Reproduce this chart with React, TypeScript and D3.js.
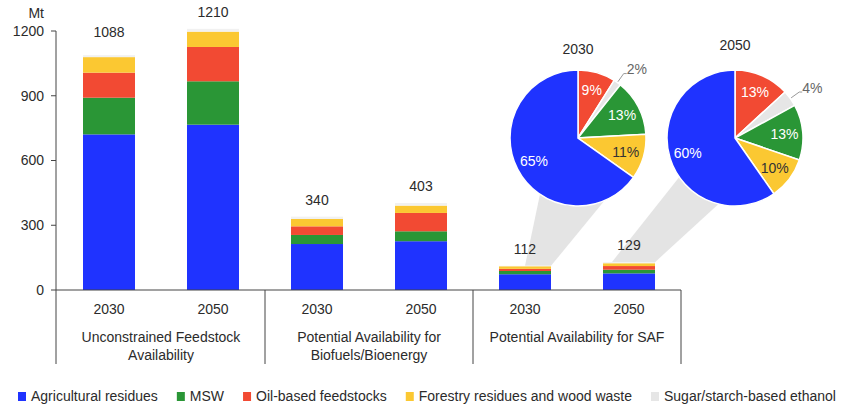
import React from "react";
import * as d3 from "d3";

// ---- data ----
const years = ["2030", "2050", "2030", "2050", "2030", "2050"];
const groups = [
  ["Unconstrained Feedstock", "Availability"],
  ["Potential Availability for", "Biofuels/Bioenergy"],
  ["Potential Availability for SAF"],
];
const seriesNames = [
  "Agricultural residues",
  "MSW",
  "Oil-based feedstocks",
  "Forestry residues and wood waste",
  "Sugar/starch-based ethanol",
];
const agricultural = [721, 766, 213, 226, 73, 77];
const msw = [170, 201, 42, 46, 15, 17];
const oilBased = [116, 159, 40, 85, 10, 17];
const forestry = [72, 71, 34, 34, 12, 13];
const sugar = [9, 13, 11, 12, 2, 5];
const totals = [1088, 1210, 340, 403, 112, 129];
const yTicks = [0, 300, 600, 900, 1200];

// pies zoom into the SAF bars (index 4 and 5)
const pieYears = ["2030", "2050"];
const pieBars = [4, 5];
// clockwise order from 12 o'clock: oil, sugar, msw, forestry, agricultural
const pieOrder = [2, 4, 1, 3, 0];

const colors = ["#1f33ff", "#2a9636", "#f24a33", "#fbc832", "#e6e6e6"];
const barColors = ["#1f33ff", "#2a9636", "#f24a33", "#fbc832", "#f1f1f1"];
const FONT = "'Liberation Sans', Arial, sans-serif";
const TEXT = "#2b2b2b";

const W = 845;
const H = 408;

const App: React.FC = () => {
  const series = [agricultural, msw, oilBased, forestry, sugar];
  const table = years.map((_, i) => {
    const row: Record<string, number> = {};
    seriesNames.forEach((s, k) => (row[s] = series[k][i]));
    return row;
  });
  const stacked = d3.stack<Record<string, number>>().keys(seriesNames)(table);

  const y = d3.scaleLinear().domain([0, 1200]).range([290, 31]);
  const x = d3
    .scaleBand<number>()
    .domain(d3.range(years.length))
    .range([57, 681])
    .paddingInner(0.5)
    .paddingOuter(0.25);
  const bw = x.bandwidth();
  const step = x.step();
  const x0 = x.range()[0];
  const axisBottom = 364;

  // pie layout
  const pieCx = [578, 735];
  const pieCy = 138;
  const R = 68;
  const bandAngles = [
    [124, 67],
    [145, 104],
  ];
  const baseFrac = [0.5, 0.17];

  const arc = d3.arc<d3.PieArcDatum<number>>().innerRadius(0).outerRadius(R);
  const labelArc = d3
    .arc<d3.PieArcDatum<number>>()
    .innerRadius(R * 0.73)
    .outerRadius(R * 0.73);

  // legend layout
  const ctx =
    typeof document !== "undefined"
      ? document.createElement("canvas").getContext("2d")
      : null;
  if (ctx) ctx.font = `14px ${FONT}`;
  let lx = 18;
  const legendItems = seriesNames.map((name, k) => {
    const w = ctx ? ctx.measureText(name).width : name.length * 7;
    const item = { name, k, x: lx };
    lx += 8 + 5 + w + 19;
    return item;
  });

  return (
    <svg
      width={W}
      height={H}
      style={{ position: "absolute", left: 0, top: 0, background: "#fff" }}
      fontFamily={FONT}
    >
      {/* zoom bands */}
      {pieBars.map((b, i) => {
        const top = y(totals[b]);
        const bl = (x(b) as number) + bw * baseFrac[i];
        const br = (x(b) as number) + bw;
        const [al, ar] = bandAngles[i].map((a) => (a * Math.PI) / 180);
        const cx = pieCx[i];
        const pts = [
          [bl, top],
          [cx + R * Math.cos(al), pieCy + R * Math.sin(al)],
          [cx, pieCy],
          [cx + R * Math.cos(ar), pieCy + R * Math.sin(ar)],
          [br, top],
        ];
        return (
          <polygon
            key={"band" + i}
            points={pts.map((p) => p.join(",")).join(" ")}
            fill="#e4e4e4"
          />
        );
      })}

      {/* bars */}
      {stacked.map((layer, k) => (
        <g key={layer.key} fill={barColors[k]}>
          {layer.map((d, i) => (
            <rect
              key={i}
              x={x(i)}
              width={bw}
              y={y(d[1])}
              height={Math.max(0, y(d[0]) - y(d[1]))}
            />
          ))}
        </g>
      ))}

      {/* total labels */}
      {totals.map((t, i) => (
        <text
          key={"tot" + i}
          x={(x(i) as number) + bw / 2}
          y={i === 0 ? 37 : y(t) - 12}
          textAnchor="middle"
          fontSize={14}
          fill={TEXT}
        >
          {t}
        </text>
      ))}

      {/* y axis */}
      <line x1={56} x2={56} y1={y(1200)} y2={axisBottom} stroke="#444" />
      {yTicks.map((t) => (
        <g key={"yt" + t}>
          <line x1={51} x2={56} y1={y(t)} y2={y(t)} stroke="#444" />
          <text
            x={44}
            y={y(t)}
            dy="0.35em"
            textAnchor="end"
            fontSize={14}
            fill={TEXT}
          >
            {t}
          </text>
        </g>
      ))}
      <text x={44} y={18} textAnchor="end" fontSize={14} fill={TEXT}>
        Mt
      </text>

      {/* x axis */}
      <line
        x1={56}
        x2={x0 + step * years.length}
        y1={y(0)}
        y2={y(0)}
        stroke="#444"
      />
      {groups.map((_, g) => {
        const gx = x0 + step * 2 * (g + 1);
        return (
          <line
            key={"sep" + g}
            x1={gx}
            x2={gx}
            y1={y(0)}
            y2={axisBottom}
            stroke="#444"
          />
        );
      })}
      {years.map((yr, i) => (
        <text
          key={"yr" + i}
          x={(x(i) as number) + bw / 2}
          y={314}
          textAnchor="middle"
          fontSize={14}
          fill={TEXT}
        >
          {yr}
        </text>
      ))}
      {groups.map((lines, g) => (
        <text
          key={"grp" + g}
          x={x0 + step * (2 * g + 1)}
          y={342}
          textAnchor="middle"
          fontSize={14}
          fill={TEXT}
        >
          {lines.map((l, j) => (
            <tspan key={j} x={x0 + step * (2 * g + 1)} dy={j === 0 ? 0 : 18}>
              {l}
            </tspan>
          ))}
        </text>
      ))}

      {/* pies */}
      {pieBars.map((b, i) => {
        const vals = series.map((s) => s[b]);
        const total = d3.sum(vals);
        const p = d3
          .pie<number>()
          .value((k) => vals[k])
          .sort(null)(pieOrder);
        return (
          <g key={"pie" + i} transform={`translate(${pieCx[i]},${pieCy})`}>
            <text
              x={0}
              y={i === 0 ? -84 : -88}
              textAnchor="middle"
              fontSize={14}
              fill={TEXT}
            >
              {pieYears[i]}
            </text>
            {p.map((d) => (
              <path
                key={d.data}
                d={arc(d) || ""}
                fill={colors[d.data]}
                stroke="#fff"
                strokeWidth={1.5}
              />
            ))}
            {p.map((d) => {
              const pct = Math.round((vals[d.data] / total) * 100);
              const label = pct + "%";
              if (pct < 5) {
                const a = (d.startAngle + d.endAngle) / 2;
                const px = (r: number) => Math.sin(a) * r;
                const py = (r: number) => -Math.cos(a) * r;
                const ex = px(R + 11);
                const ey = py(R + 11);
                return (
                  <g key={"l" + d.data}>
                    <polyline
                      points={`${px(R + 1)},${py(R + 1)} ${ex},${ey} ${ex + 3},${ey}`}
                      fill="none"
                      stroke="#999"
                    />
                    <text
                      x={ex + 3}
                      y={ey - 4}
                      dy="0.35em"
                      fontSize={14}
                      fill="#666"
                    >
                      {label}
                    </text>
                  </g>
                );
              }
              const [cx, cy] = labelArc.centroid(d);
              return (
                <text
                  key={"l" + d.data}
                  x={cx}
                  y={cy}
                  dy="0.35em"
                  textAnchor="middle"
                  fontSize={14}
                  fill={d.data === 3 ? "#333" : "#fff"}
                >
                  {label}
                </text>
              );
            })}
          </g>
        );
      })}

      {/* legend */}
      {legendItems.map((it) => (
        <g key={it.name}>
          <rect x={it.x} y={392} width={8} height={9} fill={colors[it.k]} />
          <text x={it.x + 13} y={396} dy="0.35em" fontSize={14} fill={TEXT}>
            {it.name}
          </text>
        </g>
      ))}
    </svg>
  );
};

export default App;
